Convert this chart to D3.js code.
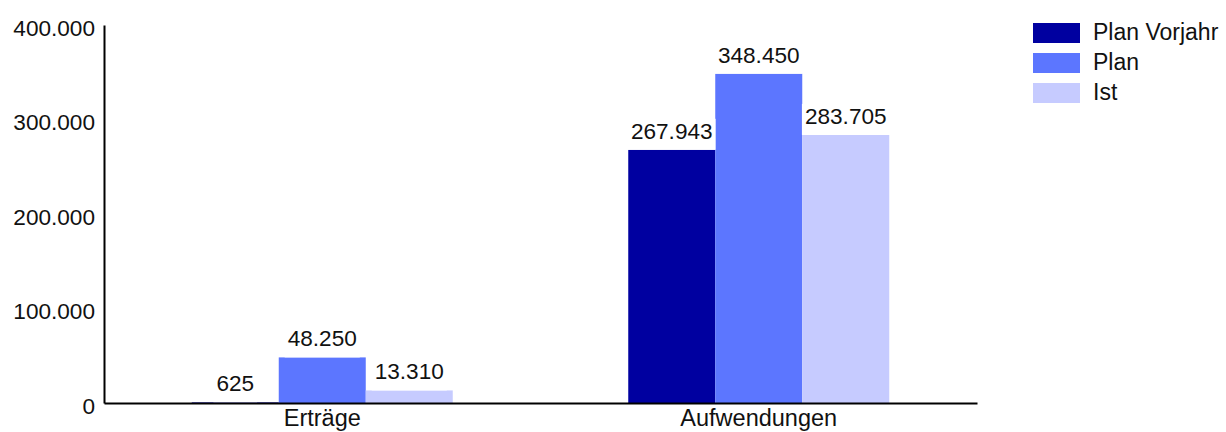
<!DOCTYPE html>
<html>
<head>
<meta charset="utf-8">
<script src="https://cdn.jsdelivr.net/npm/d3@7"></script>
<style>
  html, body { margin: 0; padding: 0; background: #fff; }
  svg { display: block; font-family: "Liberation Sans", Arial, sans-serif; }
</style>
</head>
<body>
<svg id="chart" width="1226" height="432"></svg>
<script>
const categories = ["Erträge", "Aufwendungen"];
const seriesNames = ["Plan Vorjahr", "Plan", "Ist"];
const planVorjahr = [625, 267943];
const plan = [48250, 348450];
const ist = [13310, 283705];
const yTicks = [0, 100000, 200000, 300000, 400000];
const colors = ["#0000a0", "#5c76ff", "#c6cbff"];

const seriesValues = [planVorjahr, plan, ist];
const fmt = v => d3.format(",")(v).replace(/,/g, ".");

const svg = d3.select("#chart");
const mLeft = 104, mRight = 977, mTop = 25, mBottom = 403;

const x0 = d3.scaleBand().domain(categories).range([mLeft, mRight]).padding(0);
const groupW = 261;
const x1 = d3.scaleBand().domain(seriesNames).range([0, groupW]).padding(0);
const y = d3.scaleLinear().domain([0, 400000]).range([mBottom, mTop]);

// bars
const groups = svg.append("g").selectAll("g").data(categories).join("g")
  .attr("transform", c => `translate(${x0(c) + (x0.bandwidth() - groupW) / 2},0)`);

groups.each(function(c, ci) {
  d3.select(this).selectAll("rect").data(seriesNames).join("rect")
    .attr("x", s => x1(s))
    .attr("width", x1.bandwidth())
    .attr("y", (s, si) => y(seriesValues[si][ci]))
    .attr("height", (s, si) => mBottom - y(seriesValues[si][ci]))
    .attr("fill", (s, si) => colors[si]);
});

// value labels on top
const labelLayer = svg.append("g");
categories.forEach((c, ci) => {
  const gx = x0(c) + (x0.bandwidth() - groupW) / 2;
  seriesNames.forEach((s, si) => {
    const v = seriesValues[si][ci];
    const cx = gx + x1(s) + x1.bandwidth() / 2;
    const by = y(v) - 11;
    const g = labelLayer.append("g");
    const rect = g.append("rect").attr("fill", "#fff");
    const t = g.append("text")
      .attr("x", cx).attr("y", by)
      .attr("text-anchor", "middle")
      .attr("font-size", 22.6)
      .attr("fill", "#111")
      .text(fmt(v));
    const bb = t.node().getBBox();
    rect.attr("x", bb.x - 3).attr("width", bb.width + 6)
      .attr("y", by - 20).attr("height", 31);
  });
});

// y axis
const yAxis = svg.append("g")
  .attr("transform", `translate(${mLeft},0)`)
  .call(d3.axisLeft(y).tickValues(yTicks).tickSize(0).tickPadding(9).tickFormat(fmt));
yAxis.select(".domain").attr("stroke", "#000").attr("stroke-width", 2);
yAxis.selectAll("text").attr("font-size", 22.6).attr("fill", "#111")
  .attr("font-family", "Liberation Sans, Arial, sans-serif")
  .attr("dy", "0.45em");

// x axis
const xAxis = svg.append("g")
  .attr("transform", `translate(0,${mBottom})`)
  .call(d3.axisBottom(x0).tickSize(0).tickPadding(6));
xAxis.select(".domain").attr("stroke", "#000").attr("stroke-width", 2);
xAxis.selectAll("text").attr("font-size", 23.5).attr("fill", "#111")
  .attr("font-family", "Liberation Sans, Arial, sans-serif")
  .attr("dy", "0.71em");

// legend
const legend = svg.append("g").attr("transform", "translate(1033,23)");
seriesNames.forEach((s, i) => {
  legend.append("rect").attr("x", 0).attr("y", i * 30).attr("width", 47).attr("height", 20).attr("fill", colors[i]);
  legend.append("text").attr("x", 60).attr("y", i * 30 + 16.5)
    .attr("font-size", 23).attr("fill", "#111").text(s);
});
</script>
</body>
</html>
